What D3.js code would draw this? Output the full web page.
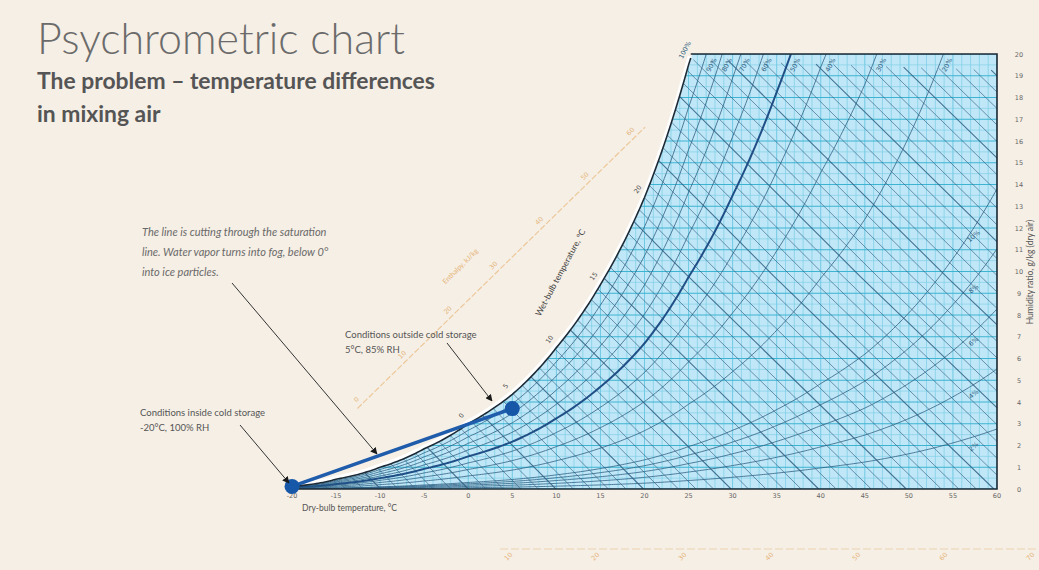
<!DOCTYPE html>
<html><head><meta charset="utf-8">
<script src="https://cdn.jsdelivr.net/npm/d3@7"></script>
<style>
html,body{margin:0;padding:0;background:#f6efe5;}
svg{display:block;}
</style></head><body>
<svg id="c" width="1039" height="570"></svg>
<script>
// ---------------- data ----------------
const satTemps    = [-20, -15, -10, -5, 0, 5, 10, 15, 20, 25, 30, 35, 40, 45, 50, 55, 60];
const satHumidity = [0.12, 0.45, 1.0, 1.85, 3.0, 4.35, 6.5, 9.4, 13.4, 19.5, 27, 36.5, 48.5, 62, 81, 106, 138];
const rhLevels    = [90, 80, 70, 60, 50, 40, 30, 20, 10, 8, 6, 4, 2];
const rhTopLabels = ["90%", "80%", "70%", "60%", "50%", "40%", "30%", "20%"];
const rhSideLabels = ["10%", "8%", "6%", "4%", "2%"];
const enthalpyLevels = [-20, -18, -16, -14, -12, -10, -8, -6, -4, -2, 0, 2, 4, 6, 8, 10, 12, 14, 16, 18, 20, 22, 24, 26, 28, 30, 32, 34, 36, 38, 40, 42, 44, 46, 48, 50, 52, 54, 56, 58, 60, 62, 64, 66, 68, 70, 72, 74, 76, 78, 80, 82, 84, 86, 88, 90, 92, 94, 96, 98, 100, 102, 104, 106, 108, 110, 112, 114];
const dryBulbTicks = [-20, -15, -10, -5, 0, 5, 10, 15, 20, 25, 30, 35, 40, 45, 50, 55, 60];
const humidityTicks = [0, 1, 2, 3, 4, 5, 6, 7, 8, 9, 10, 11, 12, 13, 14, 15, 16, 17, 18, 19, 20];
const wetBulbLabels = [0, 5, 10, 15, 20];
const enthalpyLabels = [0, 10, 20, 30, 40, 50, 60];
const lowerScaleLabels = ["10", "20", "30", "40", "50", "60", "70"];
const processPoints = [{t: -20, rh: 100}, {t: 5, rh: 85}];

// ---------------- setup ----------------
const svg = d3.select("#c");
const W = 1039, H = 570;
const x = d3.scaleLinear().domain([-20, 60]).range([292, 997]);
const y = d3.scaleLinear().domain([0, 20]).range([489, 54]);

svg.append("rect").attr("width", W).attr("height", H).attr("fill", "#f6efe5");

function satW(t) {
  let i = 0;
  while (i < satTemps.length - 2 && t > satTemps[i + 1]) i++;
  const a = satTemps[i], b = satTemps[i + 1];
  const f = (t - a) / (b - a);
  return Math.exp(Math.log(satHumidity[i]) * (1 - f) + Math.log(satHumidity[i + 1]) * f);
}
const fineT = d3.range(-20, 60.001, 0.25);

const defs = svg.append("defs");
const areaGen = d3.area().x(t => x(t)).y0(y(0)).y1(t => y(Math.min(satW(t), 20)));
defs.append("clipPath").attr("id", "satClip").append("path").attr("d", areaGen(fineT));
defs.append("marker").attr("id", "arrow").attr("viewBox", "0 0 10 10").attr("refX", 9).attr("refY", 5)
  .attr("markerWidth", 7).attr("markerHeight", 7).attr("orient", "auto-start-reverse")
  .append("path").attr("d", "M0,0L10,5L0,10z").attr("fill", "#1a1a1a");

// fill
svg.append("path").attr("d", areaGen(fineT)).attr("fill", "#c0e7f7");

const inner = svg.append("g").attr("clip-path", "url(#satClip)");

// vertical grid (every 1 °C)
inner.append("g").selectAll("line").data(d3.range(-20, 61, 1)).join("line")
  .attr("x1", d => x(d)).attr("x2", d => x(d)).attr("y1", y(0)).attr("y2", y(20))
  .attr("stroke", "#6fc9e3").attr("stroke-width", d => d % 5 === 0 ? 1 : 0.6);
// horizontal grid (every 0.5 g/kg)
inner.append("g").selectAll("line").data(d3.range(0, 20.01, 0.5)).join("line")
  .attr("x1", x(-20)).attr("x2", x(60)).attr("y1", d => y(d)).attr("y2", d => y(d))
  .attr("stroke", d => Number.isInteger(d) ? "#3db4d2" : "#79cde6")
  .attr("stroke-width", d => Number.isInteger(d) ? 1 : 0.6);

const lineGen = d3.line().x(d => x(d[0])).y(d => y(d[1]));

// enthalpy lines (kJ/kg)
function enthW(h, t) { return (h - 1.006 * t) * 1000 / (2501 + 1.86 * t); }
inner.append("g").selectAll("path").data(enthalpyLevels).join("path")
  .attr("d", h => {
    const t0 = h / 1.006;
    return lineGen([[t0, 0], [t0 - 25, enthW(h, t0 - 25)], [t0 - 50, enthW(h, t0 - 50)]]);
  })
  .attr("fill", "none").attr("stroke", "#2f5f83")
  .attr("stroke-width", h => h % 10 === 0 ? 1.1 : 0.75).attr("opacity", 0.85);

// relative humidity curves
inner.append("g").selectAll("path").data(rhLevels).join("path")
  .attr("d", rh => lineGen(fineT.map(t => [t, rh / 100 * satW(t)]).filter(p => p[1] < 21)))
  .attr("fill", "none")
  .attr("stroke", rh => rh === 50 ? "#1f4f86" : "#2f5f83")
  .attr("stroke-width", rh => rh === 50 ? 2 : 0.8);

// saturation curve
const satPts = fineT.filter(t => satW(t) <= 20.05).map(t => [t, satW(t)]);
svg.append("path").attr("d", lineGen(satPts)).attr("fill", "none").attr("stroke", "#ffffff").attr("stroke-width", 4).attr("transform", "translate(-1,-1.5)");
svg.append("path").attr("d", lineGen(satPts)).attr("fill", "none").attr("stroke", "#1b2a36").attr("stroke-width", 1.6);

// frame
const tTop = satPts[satPts.length - 1][0];
svg.append("path").attr("d", `M${x(tTop)},${y(20)}H${x(60)}V${y(0)}H${x(-20)}V${y(satW(-20))}`)
  .attr("fill", "none").attr("stroke", "#1b2a36").attr("stroke-width", 1.6);

// axes labels
const tickFont = "'DejaVu Sans', sans-serif";
svg.append("g").selectAll("text").data(dryBulbTicks).join("text")
  .attr("x", d => x(d)).attr("y", 498).attr("text-anchor", "middle")
  .attr("font-family", tickFont).attr("font-size", 6.5).attr("fill", "#666").text(d => d);
svg.append("text").attr("x", 302).attr("y", 511).attr("font-family", "Lato, sans-serif")
  .attr("font-size", 8.5).attr("fill", "#555").text("Dry-bulb temperature, °C");
svg.append("g").selectAll("text").data(humidityTicks).join("text")
  .attr("x", 1019).attr("y", d => y(d) + 2.5).attr("text-anchor", "middle")
  .attr("font-family", tickFont).attr("font-size", 6.5).attr("fill", "#666").text(d => d);
svg.append("text").attr("transform", "translate(1033,272) rotate(-90)").attr("text-anchor", "middle")
  .attr("font-family", "Lato, sans-serif").attr("font-size", 8.5).attr("fill", "#555")
  .text("Humidity ratio, g/kg (dry air)");

// RH labels along the top edge
svg.append("g").selectAll("text").data(rhLevels.filter(r => r >= 20)).join("text")
  .attr("transform", rh => {
    const t = fineT.find(tt => rh / 100 * satW(tt) >= 20);
    return `translate(${x(t) + 5},${y(20) + 12}) rotate(-62)`;
  })
  .attr("font-family", tickFont).attr("font-size", 6.5).attr("fill", "#2f5f83").attr("text-anchor", "middle")
  .text((d, i) => rhTopLabels[i]);
svg.append("text").attr("transform", `translate(${x(tTop) - 4},${y(20) - 3}) rotate(-62)`)
  .attr("font-family", tickFont).attr("font-size", 6.5).attr("fill", "#2f5f83").attr("text-anchor", "middle").text("100%");
svg.append("g").selectAll("text").data(rhLevels.filter(r => r <= 10)).join("text")
  .attr("transform", rh => `translate(${x(57.5)},${y(rh / 100 * satW(57.5)) + 12}) rotate(-40)`)
  .attr("font-family", tickFont).attr("font-size", 6.5).attr("fill", "#2f5f83").attr("text-anchor", "middle")
  .text((d, i) => rhSideLabels[i]);

// wet-bulb labels along saturation curve
svg.append("g").selectAll("text").data(wetBulbLabels).join("text")
  .attr("transform", d => `translate(${x(d) - 5},${y(satW(d)) - 7}) rotate(-55)`)
  .attr("font-family", tickFont).attr("font-size", 6.5).attr("fill", "#444").attr("text-anchor", "middle").text(d => d);
svg.append("text").attr("transform", "translate(563,274) rotate(-62)").attr("text-anchor", "middle")
  .attr("font-family", "Lato, sans-serif").attr("font-size", 8.5).attr("fill", "#444").text("Wet-bulb temperature, °C");

// enthalpy scale (diagonal, orange)
const eScale = d3.scaleLinear().domain([0, 60]).range([[362, 404], [636, 136]]);
svg.append("line").attr("x1", eScale(-1)[0]).attr("y1", eScale(-1)[1]).attr("x2", eScale(62)[0]).attr("y2", eScale(62)[1])
  .attr("stroke", "#ecc89a").attr("stroke-width", 1.2).attr("stroke-dasharray", "6,2");
svg.append("g").selectAll("text").data(enthalpyLabels).join("text")
  .attr("transform", d => `translate(${eScale(d)[0] - 4},${eScale(d)[1] - 3}) rotate(-45)`)
  .attr("text-anchor", "middle").attr("font-family", tickFont).attr("font-size", 6.5).attr("fill", "#e5b47a").text(d => d);
svg.append("text").attr("transform", "translate(462,268) rotate(-45)").attr("text-anchor", "middle")
  .attr("font-family", "Lato, sans-serif").attr("font-size", 7).attr("fill", "#e5b47a").text("Enthalpy, kJ/kg");

// lower orange scale
const lScale = d3.scaleLinear().domain([0, 6]).range([510, 1032]);
svg.append("line").attr("x1", 500).attr("x2", 1039).attr("y1", 549).attr("y2", 549)
  .attr("stroke", "#ecd3b0").attr("stroke-width", 1.2).attr("stroke-dasharray", "8,3");
svg.append("g").selectAll("text").data(lowerScaleLabels).join("text")
  .attr("transform", (d, i) => `translate(${lScale(i)},${558}) rotate(-45)`)
  .attr("text-anchor", "middle").attr("font-family", tickFont).attr("font-size", 6.5).attr("fill", "#e5b47a").text(d => d);

// process line and points
const proc = processPoints.map(p => [p.t, p.rh / 100 * satW(p.t)]);
svg.append("path").attr("d", lineGen(proc)).attr("stroke", "#1f5cab").attr("stroke-width", 3.5).attr("fill", "none");
svg.append("g").selectAll("circle").data(proc).join("circle")
  .attr("cx", d => x(d[0])).attr("cy", d => y(d[1])).attr("r", 7.5).attr("fill", "#1657a8");

// annotations
function arrow(x1, y1, x2, y2) {
  svg.append("line").attr("x1", x1).attr("y1", y1).attr("x2", x2).attr("y2", y2)
    .attr("stroke", "#333").attr("stroke-width", 1).attr("marker-end", "url(#arrow)");
}
const noteFont = "Lato, 'Open Sans', sans-serif";
const note1 = svg.append("text").attr("font-family", noteFont).attr("font-style", "italic")
  .attr("font-size", 11).attr("fill", "#6a6a6a");
["The line is cutting through the saturation", "line. Water vapor turns into fog, below 0°", "into ice particles."]
  .forEach((s, i) => note1.append("tspan").attr("x", 142).attr("y", 236 + i * 20).text(s));
arrow(232, 283, 377, 454);

const note2 = svg.append("text").attr("font-family", noteFont).attr("font-size", 9.5).attr("fill", "#555");
["Conditions outside cold storage", "5°C, 85% RH"].forEach((s, i) => note2.append("tspan").attr("x", 345).attr("y", 338 + i * 15).text(s));
arrow(447, 343, 492, 401);

const note3 = svg.append("text").attr("font-family", noteFont).attr("font-size", 9.5).attr("fill", "#555");
["Conditions inside cold storage", "-20°C, 100% RH"].forEach((s, i) => note3.append("tspan").attr("x", 140).attr("y", 416 + i * 15).text(s));
arrow(240, 425, 289, 483);

// titles
function fit(sel, target) {
  const len = sel.node().getComputedTextLength();
  const fs = parseFloat(sel.attr("font-size"));
  sel.attr("font-size", fs * target / len);
}
const title = svg.append("text").attr("x", 37).attr("y", 54).attr("font-family", "Lato, sans-serif")
  .attr("font-weight", 300).attr("font-size", 33).attr("fill", "#6b6b6b").text("Psychrometric chart");
fit(title, 368);
const sub1 = svg.append("text").attr("x", 37).attr("y", 89).attr("font-family", "Lato, sans-serif")
  .attr("font-weight", 700).attr("font-size", 17).attr("fill", "#555").text("The problem – temperature differences");
fit(sub1, 398);
svg.append("text").attr("x", 37).attr("y", 122).attr("font-family", "Lato, sans-serif")
  .attr("font-weight", 700).attr("font-size", sub1.attr("font-size")).attr("fill", "#555").text("in mixing air");
</script>
</body></html>
